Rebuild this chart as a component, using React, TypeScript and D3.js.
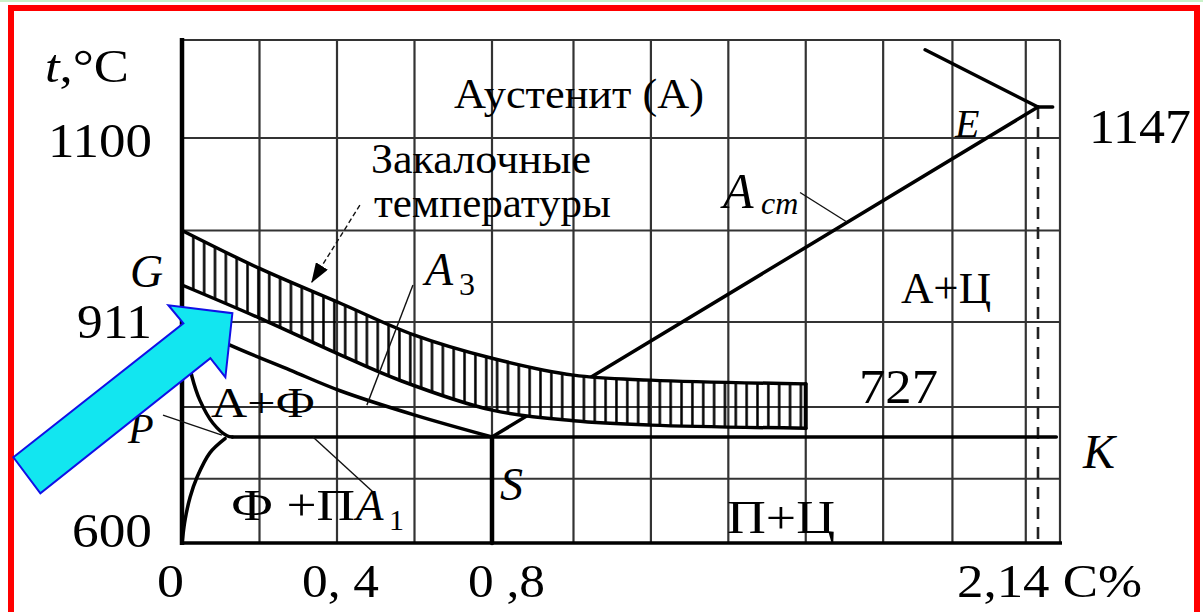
import React from 'react';
import * as d3 from 'd3';

// Schematic axis knots: carbon content (%) and temperature (°C)
const carbonKnots = [0, 0.8, 2.14, 2.2];
const tempKnots = [600, 727, 911, 1100, 1147, 1250];

// Grid lines of the diagram paper
const gridCarbon = [0.2, 0.4, 0.6, 0.8, 1.0, 1.19, 1.38, 1.57, 1.76, 1.93, 2.11];
const gridTemp = [677, 775, 911, 1005, 1100];

// Axis labels
const xTickValues = [0, 0.4, 0.8, 2.14];
const xTickTexts = ['0', '0, 4', '0 ,8', '2,14 C%'];
const yTickValues = [1100, 911, 600];
const yTickTexts = ['1100', '911', '600'];

// Phase boundaries, [C %, t °C]
const lineGS: [number, number][] = [[0, 911], [0.124, 874], [0.279, 834], [0.408, 801], [0.601, 762], [0.8, 727]];
const lineGP: [number, number][] = [[0, 911], [0.01, 874], [0.026, 823], [0.046, 786], [0.08, 749], [0.116, 729], [0.13, 727]];
const linePQ: [number, number][] = [[0.111, 725], [0.072, 708], [0.039, 679], [0.021, 655], [0.008, 628], [0.001, 604], [0, 600]];
const linePSK: [number, number][] = [[0.13, 727], [2.19, 727]];
const lineSbelow: [number, number][] = [[0.8, 727], [0.8, 600]];
const lineSE: [number, number][] = [[0.8, 727], [2.14, 1147]];
const lineAE: [number, number][] = [[1.863, 1235], [2.14, 1147]];
const tickE: [number, number][] = [[2.14, 1147], [2.18, 1147]];
const line214: [number, number][] = [[2.14, 1147], [2.14, 600]];

// Quenching temperature band
const quenchUpper: [number, number][] = [[0, 1005], [0.2, 966], [0.41, 930], [0.6, 890], [0.8, 853], [1.0, 826], [1.19, 818], [1.57, 812]];
const quenchLower: [number, number][] = [[0, 949], [0.2, 915], [0.41, 858], [0.565, 817], [0.8, 770], [1.0, 753], [1.19, 746], [1.57, 741]];

// Leader lines
const leaderA3: [number, number][] = [[0.596, 949], [0.477, 778]];
const leaderA1: [number, number][] = [[0.338, 727], [0.493, 661]];
const leaderP: [number, number][] = [[-0.049, 762], [0.103, 730]];
const leaderAcm: [number, number][] = [[1.556, 1044], [1.67, 1014]];
const quenchPointer: [number, number][] = [[0.459, 1031], [0.335, 952]];

// Highlight arrow target
const highlightTip: [number, number] = [0.13, 920];

const W = 1203;
const H = 612;
const FONT = '"Liberation Serif", "Times New Roman", serif';

export default function App() {
  const x = d3.scaleLinear().domain(carbonKnots).range([182, 492, 1038, 1060]);
  const y = d3.scaleLinear().domain(tempKnots).range([543, 437, 322, 138, 107, 40]);

  const straight = d3.line<[number, number]>().x(d => x(d[0])).y(d => y(d[1]));
  const smooth = d3.line<[number, number]>().x(d => x(d[0])).y(d => y(d[1])).curve(d3.curveCatmullRom.alpha(0.5));

  const upperPath = smooth(quenchUpper) as string;
  const lowerRev = (smooth([...quenchLower].reverse()) as string).replace(/^M/, 'L');
  const bandPath = upperPath + lowerRev + 'Z';
  const bandEnd: [number, number][] = [quenchUpper[quenchUpper.length - 1], quenchLower[quenchLower.length - 1]];

  const [c0, c1] = [carbonKnots[0], carbonKnots[carbonKnots.length - 1]];
  const [t0, t1] = [tempKnots[0], tempKnots[tempKnots.length - 1]];

  const tipX = x(highlightTip[0]);
  const tipY = y(highlightTip[1]);
  const arrowShape = [[-219, 144], [-49, 10], [-64, -8], [0, 0], [-7, 64], [-22, 45], [-192, 180]];
  const arrowPts = arrowShape.map(([dx, dy]) => `${tipX + dx},${tipY + dy}`).join(' ');

  // tick label layout: left edge offset from the tick position and text width
  const xTickDx = [-25, -35, -24, -81];
  const xTickLen = [27, 77, 77, 185];
  const yTickDy = [19, 16, 4];
  const yTickLen = [104, 75, 80];

  const phase = { fill: 'none', stroke: '#000', strokeWidth: 3.5, strokeLinejoin: 'round' as const, strokeLinecap: 'round' as const };
  const thin = { fill: 'none', stroke: '#111', strokeWidth: 1.4 };
  const txt = { fontFamily: FONT, fill: '#000' };
  const fit = 'spacingAndGlyphs';

  return (
    <svg width={W} height={H} style={{ position: 'fixed', left: 0, top: 0, background: '#fff' }}>
      <defs>
        <pattern id="hatch" patternUnits="userSpaceOnUse" x={187.9} y={0} width={10.85} height={20}>
          <line x1={5.4} y1={0} x2={5.4} y2={20} stroke="#000" strokeWidth={2.5} />
        </pattern>
        <mask id="bandMask" maskUnits="userSpaceOnUse" x={0} y={0} width={W} height={H}>
          <rect x={0} y={0} width={W} height={H} fill="#fff" />
          <path d={bandPath} fill="#000" />
        </mask>
        <marker id="pointerHead" markerUnits="userSpaceOnUse" viewBox="0 0 20 14" markerWidth={20} markerHeight={14} refX={19} refY={7} orient="auto">
          <path d="M0,0 L20,7 L0,14 Z" fill="#000" />
        </marker>
      </defs>

      <rect x={0} y={0} width={W} height={2} fill="#c8f2c8" />
      <rect x={11} y={8} width={1186} height={700} fill="none" stroke="#ff0000" strokeWidth={6} />

      {/* paper grid */}
      <g stroke="#333" strokeWidth={2.2}>
        {gridCarbon.map((c, i) => (
          <line key={'gx' + i} x1={x(c)} x2={x(c)} y1={y(t1)} y2={y(t0)} />
        ))}
        {gridTemp.map((t, i) => (
          <line key={'gy' + i} x1={x(c0)} x2={x(c1)} y1={y(t)} y2={y(t)} />
        ))}
        <line x1={x(c0)} x2={x(c1)} y1={y(t1)} y2={y(t1)} />
        <line x1={x(c1)} x2={x(c1)} y1={y(t1)} y2={y(t0)} />
      </g>

      {/* axes */}
      <line x1={x(c0)} x2={x(c0)} y1={y(t1) - 2} y2={y(t0) + 2} stroke="#000" strokeWidth={4.5} />
      <line x1={x(c0)} x2={x(c1) + 2} y1={y(t0)} y2={y(t0)} stroke="#000" strokeWidth={3.5} />

      {/* dashed 2.14 % line */}
      <path d={straight(line214) as string} fill="none" stroke="#222" strokeWidth={2.6} strokeDasharray="12,8" />

      {/* phase boundaries */}
      <path d={smooth(lineGS) as string} {...phase} />
      <path d={smooth(lineGP) as string} {...phase} />
      <path d={smooth(linePQ) as string} {...phase} />
      <path d={straight(linePSK) as string} {...phase} />
      <path d={straight(lineSbelow) as string} {...phase} strokeWidth={4.5} />
      <path d={straight(lineSE) as string} {...phase} mask="url(#bandMask)" />
      <path d={straight(lineAE) as string} {...phase} />
      <path d={straight(tickE) as string} {...phase} />

      {/* quenching band */}
      <path d={bandPath} fill="url(#hatch)" stroke="none" />
      <path d={upperPath} {...phase} />
      <path d={smooth(quenchLower) as string} {...phase} />
      <path d={straight(bandEnd) as string} {...phase} strokeWidth={4} />

      {/* leaders */}
      <path d={straight(leaderA3) as string} {...thin} />
      <path d={straight(leaderA1) as string} {...thin} />
      <path d={straight(leaderP) as string} {...thin} />
      <path d={straight(leaderAcm) as string} {...thin} />
      <path d={straight(quenchPointer) as string} {...thin} strokeDasharray="5,3" markerEnd="url(#pointerHead)" />

      {/* axis labels */}
      <text x={45} y={82} fontSize={46} textLength={84} lengthAdjust={fit} {...txt}>
        <tspan fontStyle="italic">t</tspan>,°C
      </text>
      {yTickValues.map((v, i) => (
        <text key={'yt' + i} x={152 - yTickLen[i]} y={y(v) + yTickDy[i]} fontSize={48} textLength={yTickLen[i]} lengthAdjust={fit} {...txt}>{yTickTexts[i]}</text>
      ))}
      {xTickValues.map((v, i) => (
        <text key={'xt' + i} x={x(v) + xTickDx[i]} y={597} fontSize={46} textLength={xTickLen[i]} lengthAdjust={fit} {...txt}>{xTickTexts[i]}</text>
      ))}
      <text x={1089} y={143} fontSize={48} textLength={102} lengthAdjust={fit} {...txt}>1147</text>
      <text x={859} y={403} fontSize={48} textLength={79} lengthAdjust={fit} {...txt}>727</text>

      {/* point labels */}
      <text x={130} y={287} fontSize={46} fontStyle="italic" {...txt}>G</text>
      <text x={128} y={443} fontSize={42} fontStyle="italic" {...txt}>P</text>
      <text x={500} y={500} fontSize={46} fontStyle="italic" {...txt}>S</text>
      <text x={955} y={137} fontSize={40} fontStyle="italic" {...txt}>E</text>
      <text x={1083} y={468} fontSize={48} fontStyle="italic" {...txt}>K</text>

      {/* region labels */}
      <text x={454} y={108} fontSize={43} textLength={250} lengthAdjust={fit} {...txt}>Аустенит (А)</text>
      <text x={371} y={173} fontSize={43} textLength={220} lengthAdjust={fit} {...txt}>Закалочные</text>
      <text x={374} y={217} fontSize={43} textLength={237} lengthAdjust={fit} {...txt}>температуры</text>
      <text x={901} y={303} fontSize={44} textLength={90} lengthAdjust={fit} {...txt}>А+Ц</text>
      <text x={211} y={417} fontSize={43} textLength={104} lengthAdjust={fit} {...txt}>А+Ф</text>
      <text x={231} y={520} fontSize={44} textLength={124} lengthAdjust={fit} {...txt}>Ф +П</text>
      <text x={727} y={533} fontSize={46} textLength={108} lengthAdjust={fit} {...txt}>П+Ц</text>

      {/* critical point labels */}
      <text x={723} y={208} fontSize={50} fontStyle="italic" {...txt}>A</text>
      <text x={761} y={214} fontSize={32} fontStyle="italic" {...txt}>cm</text>
      <text x={425} y={285} fontSize={46} fontStyle="italic" {...txt}>A</text>
      <text x={459} y={295} fontSize={32} {...txt}>3</text>
      <text x={356} y={520} fontSize={45} fontStyle="italic" {...txt}>A</text>
      <text x={389} y={530} fontSize={30} {...txt}>1</text>

      {/* highlight arrow */}
      <polygon points={arrowPts} fill="#12e6f0" stroke="#1010e6" strokeWidth={2} strokeLinejoin="miter" />
    </svg>
  );
}
